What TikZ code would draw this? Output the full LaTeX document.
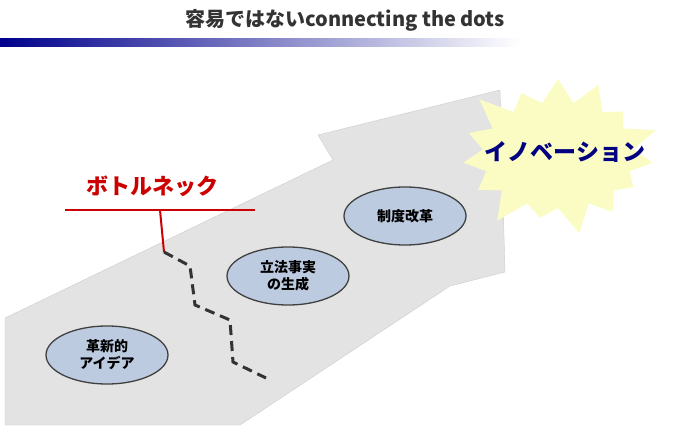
\documentclass[tikz,border=0pt]{standalone}
\usepackage{fontspec}
\newfontfamily\jp{Noto Sans CJK JP}
\usetikzlibrary{shapes.symbols,shapes.geometric}
\definecolor{ovalfill}{HTML}{BCCBE0}
\definecolor{burstfill}{HTML}{FAFCC4}
\begin{document}
\begin{tikzpicture}[x=1pt,y=-1pt,
  oval/.style={ellipse,draw=black!75,line width=1.3pt,fill=ovalfill,minimum width=122pt,minimum height=58pt,align=center,font=\jp\bfseries\fontsize{14}{17}\selectfont,inner sep=0pt}]
\useasboundingbox (0,0) rectangle (688,430);
\node[font=\jp\bfseries\fontsize{20}{22}\selectfont,text=black!80] (title) at (345,20) {容易ではないconnecting the dots};
\shade[left color=blue!55!black,right color=white] (0,39) rectangle (520,47);
\path[fill=gray!22,draw=gray!40] (5,318) -- (333,160) -- (318,135) -- (500,90) -- (505,272) -- (450,286) -- (240,425) -- (5,425) -- cycle;
\node[starburst,starburst points=15,starburst point height=32pt,fill=burstfill,draw=none,minimum width=215pt,minimum height=170pt] (burst) at (558,155) {};
\node[font=\jp\bfseries\fontsize{23}{25}\selectfont,text=blue!50!black] (inno) at (565,152) {イノベーション};
\node[oval] (a) at (107,355) {革新的\\アイデア};
\node[oval] (b) at (288,276) {立法事実\\の生成};
\node[oval] (c) at (405,216) {制度改革};
\node[font=\jp\bfseries\fontsize{22}{24}\selectfont,text=red!80!black] (bn) at (152,186) {ボトルネック};
\coordinate (l1) at (65,210); \coordinate (l2) at (255,210);
\coordinate (d0) at (160,210); \coordinate (d1) at (164,252);
\draw[red!80!black,line width=2pt] (l1) -- (l2);
\draw[red!80!black,line width=2pt] (d0) -- (d1);
\draw[black!80,line width=3pt,dash pattern=on 10pt off 6pt] (d1) -- (190,266) -- (195,305) -- (230,320) -- (233,362) -- (266,378);
\end{tikzpicture}
\end{document}
